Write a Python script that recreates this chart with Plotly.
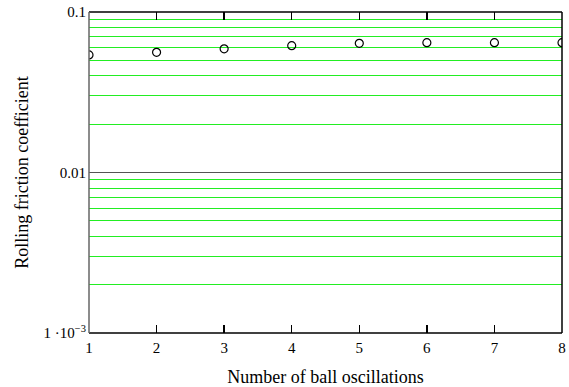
import plotly.graph_objects as go

oscillations = [1, 2, 3, 4, 5, 6, 7, 8]
friction = [0.054, 0.0561, 0.059, 0.0617, 0.0638, 0.0644, 0.0644, 0.0644]

major_vals = [0.001, 0.01, 0.1]
major_text = ["1 \u00b710<sup>\u22123</sup>", "0.01", "0.1"]
minor_vals = [m * d for d in (0.001, 0.01) for m in range(2, 10)]

x_ticks = [1, 2, 3, 4, 5, 6, 7, 8]

font_family = "Liberation Serif"

fig = go.Figure()
fig.add_trace(go.Scatter(
    x=oscillations, y=friction, mode="markers",
    marker=dict(symbol="circle-open", size=8, color="black", line=dict(width=1.2)),
    cliponaxis=True, showlegend=False, hoverinfo="skip",
))

all_vals = major_vals + minor_vals
all_text = major_text + [""] * len(minor_vals)

shapes = [
    dict(type="line", xref="paper", yref="y", x0=0, x1=1,
         y0=major_vals[1], y1=major_vals[1],
         line=dict(color="#555555", width=1), layer="above"),
    dict(type="line", xref="paper", yref="paper", x0=1, x1=1, y0=0, y1=1,
         line=dict(color="black", width=1.5), layer="above"),
    dict(type="line", xref="paper", yref="paper", x0=0, x1=1, y0=1, y1=1,
         line=dict(color="black", width=1.5), layer="above"),
    dict(type="line", xref="paper", yref="paper", x0=0, x1=1, y0=0, y1=0,
         line=dict(color="black", width=1.5), layer="above"),
    dict(type="line", xref="paper", yref="paper", x0=0, x1=0, y0=0, y1=1,
         line=dict(color="#666666", width=1.5), layer="above"),
]

fig.update_layout(
    width=569, height=387,
    margin=dict(l=89, r=7, t=12, b=54, autoexpand=False),
    plot_bgcolor="white", paper_bgcolor="white",
    font=dict(family=font_family, size=15, color="black"),
    showlegend=False,
    shapes=shapes,
    xaxis=dict(
        range=[1, 8], tickvals=x_ticks, ticks="inside", ticklen=8,
        tickcolor="black", tickwidth=1.5, showline=False,
        mirror="ticks", showgrid=False, zeroline=False,
        ticklabelstandoff=4,
        title=dict(text="Number of ball oscillations", standoff=16),
        tickfont=dict(family=font_family, size=15),
    ),
    yaxis=dict(
        type="log", range=[-3, -1], tickvals=all_vals, ticktext=all_text,
        ticks="", showline=False,
        showgrid=True, gridcolor="#22ee22", gridwidth=1, zeroline=False,
        ticklabelstandoff=2,
        title=dict(text="Rolling friction coefficient", standoff=10),
        tickfont=dict(family=font_family, size=15),
    ),
)

fig.write_html("out.html",
               config={"displayModeBar": False, "staticPlot": True},
               post_script="document.body.style.margin='0';document.body.style.overflow='hidden';")
